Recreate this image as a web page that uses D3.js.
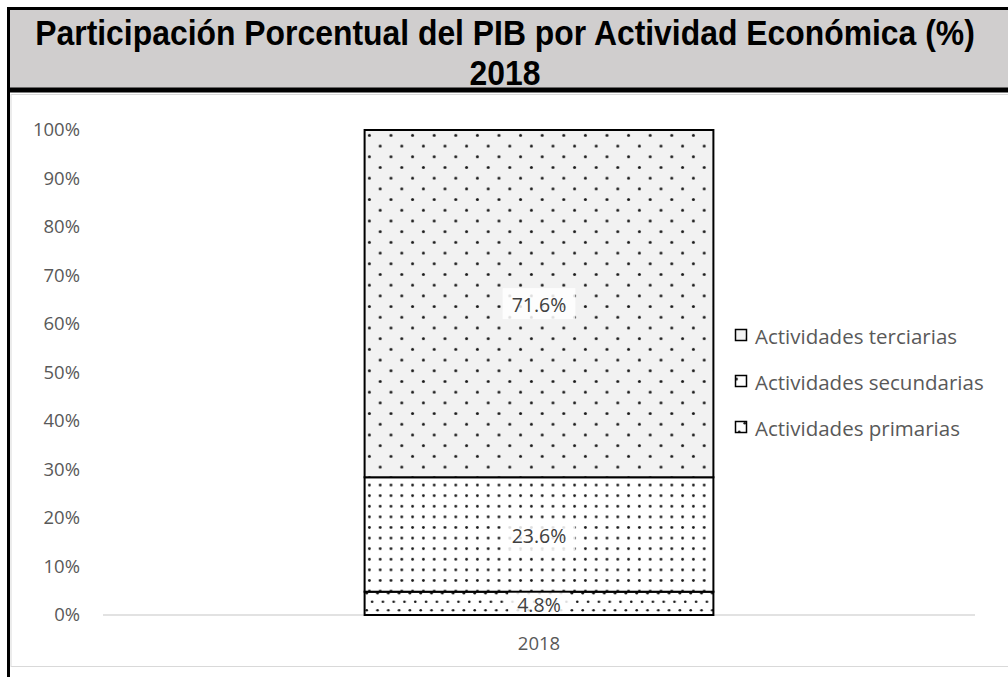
<!DOCTYPE html>
<html>
<head>
<meta charset="utf-8">
<script src="https://cdn.jsdelivr.net/npm/d3@7"></script>
<style>
    body { margin: 0; background: #fff; }
    svg { display: block; }
</style>
</head>
<body>
<div id="chart"></div>
<script>
var categories = ["2018"];
var seriesNames = ["Actividades primarias", "Actividades secundarias", "Actividades terciarias"];
var seriesValues = [[4.8], [23.6], [71.6]];
var yTicks = [0, 10, 20, 30, 40, 50, 60, 70, 80, 90, 100];

var width = 1008;
var height = 677;
var labelFont = "Open Sans, Carlito, sans-serif";

var svg = d3.select("#chart").append("svg")
    .attr("width", width)
    .attr("height", height);

// patterns: dots, staggered or on a grid
var defs = svg.append("defs");
var patterns = [
    { id: "patPrim", w: 10.8, h: 17, bg: "#ffffff", r: 1.3, stagger: true },
    { id: "patSec", w: 10.8, h: 10.6, bg: "#ffffff", r: 1.4, stagger: false },
    { id: "patTer", w: 21.6, h: 21.4, bg: "#f2f2f2", r: 1.5, stagger: true }
];
patterns.forEach(function (p) {
    var pat = defs.append("pattern")
        .attr("id", p.id)
        .attr("patternUnits", "userSpaceOnUse")
        .attr("x", 364).attr("y", 130)
        .attr("width", p.w).attr("height", p.h);
    pat.append("rect").attr("width", p.w).attr("height", p.h).attr("fill", p.bg);
    if (p.stagger) {
        pat.append("circle").attr("cx", p.w * 0.25).attr("cy", p.h * 0.25).attr("r", p.r).attr("fill", "#1a1a1a");
        pat.append("circle").attr("cx", p.w * 0.75).attr("cy", p.h * 0.75).attr("r", p.r).attr("fill", "#1a1a1a");
    } else {
        pat.append("circle").attr("cx", p.w * 0.5).attr("cy", p.h * 0.5).attr("r", p.r).attr("fill", "#1a1a1a");
    }
});

// title box
svg.append("rect")
    .attr("x", 8.5).attr("y", 8.5)
    .attr("width", width + 10).attr("height", 82)
    .attr("fill", "#d0cece")
    .attr("stroke", "#000")
    .attr("stroke-width", 3);
svg.append("line")
    .attr("x1", 7).attr("x2", width)
    .attr("y1", 90).attr("y2", 90)
    .attr("stroke", "#000").attr("stroke-width", 5);

var titleG = svg.append("g");
var title = titleG.append("text")
    .attr("text-anchor", "middle")
    .attr("font-family", "Liberation Sans Narrow, Liberation Sans, Arial, sans-serif")
    .attr("font-weight", "bold")
    .attr("font-size", 35)
    .attr("fill", "#000");
var t1 = title.append("tspan").attr("x", 0).attr("y", 45)
    .text("Participación Porcentual del PIB por Actividad Económica (%)");
title.append("tspan").attr("x", 0).attr("y", 85).text("2018");
// fit the first line to the reference width
var sx = 940 / t1.node().getComputedTextLength();
titleG.attr("transform", "translate(505,0) scale(" + sx + ",1)");

// chart area
svg.append("line")
    .attr("x1", 8.5).attr("x2", 8.5)
    .attr("y1", 90).attr("y2", height)
    .attr("stroke", "#000").attr("stroke-width", 3);
svg.append("rect")
    .attr("x", 11).attr("y", 94.5)
    .attr("width", width).attr("height", 572)
    .attr("fill", "none")
    .attr("stroke", "#d9d9d9").attr("stroke-width", 1);

var x = d3.scaleBand()
    .domain(categories)
    .range([103, 975])
    .paddingInner(0.6)
    .paddingOuter(0.3);

var y = d3.scaleLinear()
    .domain([0, 100])
    .range([615, 130]);

var yAxis = svg.append("g")
    .attr("transform", "translate(80,0)")
    .call(d3.axisLeft(y).tickValues(yTicks).tickSize(0).tickPadding(0).tickFormat(function (d) { return d + "%"; }));
yAxis.select(".domain").remove();
yAxis.selectAll("text")
    .attr("font-family", labelFont)
    .attr("font-size", 18.5)
    .attr("fill", "#595959");

svg.append("line")
    .attr("x1", 103).attr("x2", 975)
    .attr("y1", y(0)).attr("y2", y(0))
    .attr("stroke", "#d9d9d9").attr("stroke-width", 1.5);

var xAxis = svg.append("g")
    .attr("transform", "translate(0," + y(0) + ")")
    .call(d3.axisBottom(x).tickSize(0).tickPadding(22));
xAxis.select(".domain").remove();
xAxis.selectAll("text")
    .attr("font-family", labelFont)
    .attr("font-size", 18.5)
    .attr("fill", "#595959");

// stacked bars
var stackData = categories.map(function (c, i) {
    var row = { cat: c };
    seriesNames.forEach(function (s, j) { row[s] = seriesValues[j][i]; });
    return row;
});
var stacked = d3.stack().keys(seriesNames)(stackData);
var fills = ["url(#patPrim)", "url(#patSec)", "url(#patTer)"];

stacked.forEach(function (layer, j) {
    layer.forEach(function (d) {
        svg.append("rect")
            .attr("x", x(d.data.cat))
            .attr("y", y(d[1]))
            .attr("width", x.bandwidth())
            .attr("height", y(d[0]) - y(d[1]))
            .attr("fill", fills[j])
            .attr("stroke", "#000")
            .attr("stroke-width", 2);
    });
});

// data labels
stacked.forEach(function (layer, j) {
    layer.forEach(function (d) {
        var cx = x(d.data.cat) + x.bandwidth() / 2;
        var cy = (y(d[0]) + y(d[1])) / 2;
        var txt = d3.format(".1f")(d[1] - d[0]) + "%";
        var g = svg.append("g");
        var t = g.append("text")
            .attr("x", cx)
            .attr("y", cy + 1)
            .attr("text-anchor", "middle")
            .attr("dominant-baseline", "central")
            .attr("font-family", labelFont)
            .attr("font-size", 19.5)
            .attr("fill", "#404040")
            .text(txt);
        var bb = t.node().getBBox();
        var bh = j == 0 ? y(d[0]) - y(d[1]) - 2 : 31;
        g.insert("rect", "text")
            .attr("x", bb.x - 9)
            .attr("y", cy - bh / 2)
            .attr("width", bb.width + 18)
            .attr("height", bh)
            .attr("fill", "#ffffff")
            .attr("fill-opacity", 0.85);
    });
});

// legend
var legendItems = seriesNames.slice().reverse();
var legendFills = fills.slice().reverse();
var legend = svg.append("g");
legendItems.forEach(function (name, i) {
    var ly = 335 + i * 46;
    legend.append("rect")
        .attr("x", 735.5).attr("y", ly - 5.5)
        .attr("width", 11).attr("height", 11)
        .attr("fill", legendFills[i])
        .attr("stroke", "#000").attr("stroke-width", 1.5);
    legend.append("text")
        .attr("x", 755)
        .attr("y", ly + 1)
        .attr("dominant-baseline", "central")
        .attr("font-family", labelFont)
        .attr("font-size", 20.5)
        .attr("fill", "#595959")
        .text(name);
});
</script>
</body>
</html>
